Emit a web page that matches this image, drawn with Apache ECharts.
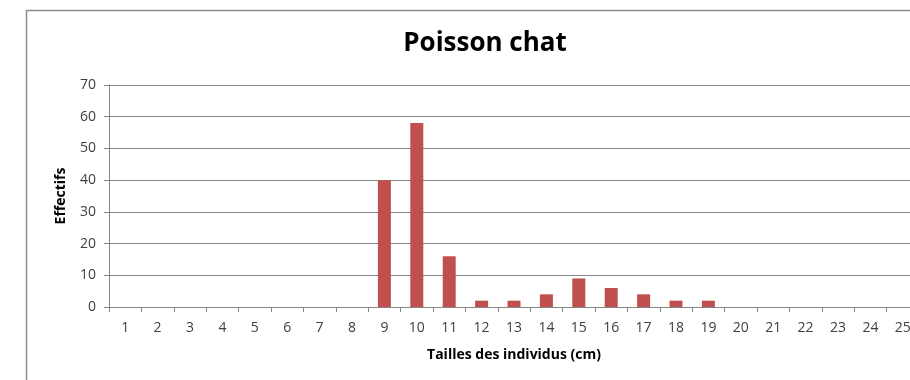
<!DOCTYPE html>
<html>
<head>
<meta charset="utf-8">
<script src="https://cdn.jsdelivr.net/npm/echarts@6/dist/echarts.min.js"></script>
<style>
  html, body { margin: 0; padding: 0; background: #ffffff; overflow: hidden; }
  #chart { width: 930px; height: 380px; }
</style>
</head>
<body>
<div id="chart"></div>
<script>
// Size classes (cm) and the number of catfish counted in each
const tailles = ['1','2','3','4','5','6','7','8','9','10','11','12','13','14','15','16','17','18','19','20','21','22','23','24','25'];
const effectifs = [0,0,0,0,0,0,0,0,40,58,16,2,2,4,9,6,4,2,2,0,0,0,0,0,0];
const yTicks = { min: 0, max: 70, step: 10 };

const chart = echarts.init(document.getElementById('chart'), null, { renderer: 'canvas' });

const textColor = '#404040';
const lineColor = '#868686';
const fontFamily = '"Open Sans", "Noto Sans", sans-serif';

chart.setOption({
  animation: false,
  backgroundColor: '#ffffff',
  title: {
    text: 'Poisson chat',
    left: 480,
    textAlign: 'center',
    top: 26,
    textStyle: { fontFamily: fontFamily, fontWeight: 'bold', fontSize: 26, color: '#000000' }
  },
  graphic: [{
    type: 'rect',
    shape: { x: 26.5, y: 10.5, width: 1000, height: 500 },
    style: { fill: 'none', stroke: '#8c8c8c', lineWidth: 1.5 },
    silent: true
  }],
  grid: { left: 109, top: 85, width: 810, height: 222 },
  xAxis: {
    type: 'category',
    data: tailles,
    boundaryGap: true,
    name: 'Tailles des individus (cm)',
    nameLocation: 'middle',
    nameGap: 41,
    nameTextStyle: { fontFamily: fontFamily, fontWeight: 'bold', fontSize: 14, color: '#000000' },
    axisLine: { lineStyle: { color: lineColor, width: 1 } },
    axisTick: { show: true, length: 5, alignWithLabel: false, interval: 0, lineStyle: { color: lineColor } },
    axisLabel: { interval: 0, margin: 14, fontFamily: fontFamily, fontSize: 14, color: textColor },
    splitLine: { show: false }
  },
  yAxis: {
    type: 'value',
    min: yTicks.min,
    max: yTicks.max,
    interval: yTicks.step,
    name: 'Effectifs',
    nameLocation: 'middle',
    nameRotate: 90,
    nameGap: 41,
    nameTextStyle: { fontFamily: fontFamily, fontWeight: 'bold', fontSize: 14, color: '#000000' },
    axisLine: { show: true, lineStyle: { color: lineColor, width: 1 } },
    axisTick: { show: true, length: 5, lineStyle: { color: lineColor } },
    axisLabel: { margin: 13, fontFamily: fontFamily, fontSize: 14, color: textColor },
    splitLine: { show: true, lineStyle: { color: lineColor, width: 1 } }
  },
  series: [{
    type: 'bar',
    data: effectifs,
    barWidth: 13,
    itemStyle: { color: '#C0504D' }
  }]
});
</script>
</body>
</html>
